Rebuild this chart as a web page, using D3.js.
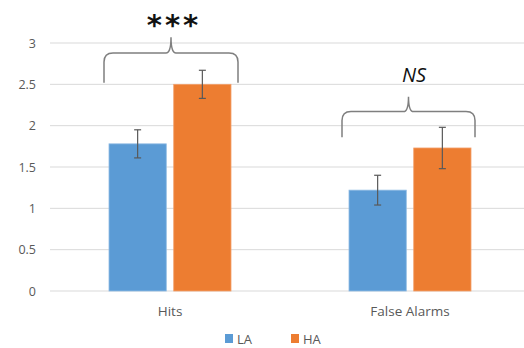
<!DOCTYPE html>
<html>
<head>
<meta charset="utf-8">
<script src="https://cdn.jsdelivr.net/npm/d3@7"></script>
<style>
  body { margin: 0; background: #fff; }
  text { font-family: "Open Sans", "DejaVu Sans", sans-serif; }
</style>
</head>
<body>
<script>
// chart data
var categories = ['Hits', 'False Alarms'];
var groups = ['LA', 'HA'];
var laValues = [1.78, 1.22];
var haValues = [2.50, 1.73];
var laErr = [0.17, 0.18];
var haErr = [0.17, 0.25];
var yTicks = [0, 0.5, 1, 1.5, 2, 2.5, 3];
var sigLabels = ['***', 'NS'];

var colors = { LA: '#5B9BD5', HA: '#ED7D31' };

var svg = d3.select('body').append('svg').attr('width', 524).attr('height', 348);

var x = d3.scaleBand().domain(categories).range([50, 530]);
var xInner = d3.scaleBand().domain(groups).range([0, 122]).paddingInner(0.115);
var y = d3.scaleLinear().domain([0, 3]).range([291, 43]);

// gridlines
svg.append('g').selectAll('line').data(yTicks).enter().append('line')
  .attr('x1', 50).attr('x2', 524)
  .attr('y1', function(d) { return y(d); })
  .attr('y2', function(d) { return y(d); })
  .attr('stroke', '#d9d9d9').attr('stroke-width', 1);

// y axis labels
var yAxis = d3.axisLeft(y).tickValues(yTicks).tickSize(0).tickPadding(0)
  .tickFormat(function(d) { return d; });
var ya = svg.append('g').attr('transform', 'translate(36,0)').call(yAxis);
ya.select('.domain').remove();
ya.selectAll('text').attr('fill', '#595959').style('font-size', '12.5px')
  .style('font-family', '"Open Sans", "DejaVu Sans", sans-serif');

// x axis labels
var xAxis = d3.axisBottom(x).tickSize(0).tickPadding(0);
var xa = svg.append('g').attr('transform', 'translate(0,306)').call(xAxis);
xa.select('.domain').remove();
xa.selectAll('text').attr('fill', '#595959').style('font-size', '13.5px')
  .style('font-family', '"Open Sans", "DejaVu Sans", sans-serif');

var rows = [];
categories.forEach(function(c, i) {
  rows.push({ cat: c, g: 'LA', v: laValues[i], e: laErr[i] });
  rows.push({ cat: c, g: 'HA', v: haValues[i], e: haErr[i] });
});

function barX(d) {
  return x(d.cat) + x.bandwidth() / 2 - 61 + xInner(d.g);
}

svg.append('g').selectAll('rect').data(rows).enter().append('rect')
  .attr('x', barX)
  .attr('y', function(d) { return y(d.v); })
  .attr('width', xInner.bandwidth())
  .attr('height', function(d) { return y(0) - y(d.v); })
  .attr('fill', function(d) { return colors[d.g]; })
  .attr('stroke', function(d) { return d.g == 'LA' ? '#8fbbe4' : '#f2a06c'; })
  .attr('stroke-width', 0.8);

// error bars
var eb = svg.append('g').attr('stroke', '#595959').attr('stroke-width', 1.2);
rows.forEach(function(d) {
  var cx = barX(d) + xInner.bandwidth() / 2;
  eb.append('line').attr('x1', cx).attr('x2', cx)
    .attr('y1', y(d.v + d.e)).attr('y2', y(d.v - d.e));
  eb.append('line').attr('x1', cx - 3.5).attr('x2', cx + 3.5)
    .attr('y1', y(d.v + d.e)).attr('y2', y(d.v + d.e));
  eb.append('line').attr('x1', cx - 3.5).attr('x2', cx + 3.5)
    .attr('y1', y(d.v - d.e)).attr('y2', y(d.v - d.e));
});

// braces above each group
function bracePath(x0, x1, yb, yh, yp) {
  var m = (x0 + x1) / 2, r = 9;
  return 'M' + x0 + ',' + yb +
    ' L' + x0 + ',' + (yh + r) +
    ' Q' + x0 + ',' + yh + ' ' + (x0 + r) + ',' + yh +
    ' L' + (m - 5) + ',' + yh +
    ' Q' + m + ',' + yh + ' ' + m + ',' + yp +
    ' Q' + m + ',' + yh + ' ' + (m + 5) + ',' + yh +
    ' L' + (x1 - r) + ',' + yh +
    ' Q' + x1 + ',' + yh + ' ' + x1 + ',' + (yh + r) +
    ' L' + x1 + ',' + yb;
}

var braces = [
  { x0: 104, x1: 238, yb: y(2.52), yh: y(2.88), yp: y(3.07) },
  { x0: 342, x1: 475, yb: y(1.86), yh: y(2.17), yp: y(2.35) }
];
svg.append('g').selectAll('path').data(braces).enter().append('path')
  .attr('d', function(d) { return bracePath(d.x0, d.x1, d.yb, d.yh, d.yp); })
  .attr('fill', 'none').attr('stroke', '#7f7f7f').attr('stroke-width', 1.5);

svg.append('text').attr('x', 174).attr('y', 35).attr('text-anchor', 'middle')
  .style('font-size', '29px').style('font-weight', 'bold').style('letter-spacing', '3px')
  .style('font-family', '"DejaVu Sans", sans-serif')
  .attr('fill', '#111').text(sigLabels[0]);

svg.append('text').attr('x', 414).attr('y', 82).attr('text-anchor', 'middle')
  .style('font-size', '20px').style('font-style', 'italic')
  .attr('fill', '#111').text(sigLabels[1]);

// legend
var leg = svg.append('g');
var legPos = [{ g: 'LA', x: 225 }, { g: 'HA', x: 291 }];
legPos.forEach(function(p) {
  leg.append('rect').attr('x', p.x).attr('y', 334).attr('width', 8).attr('height', 9)
    .attr('fill', colors[p.g]);
  leg.append('text').attr('x', p.x + 12).attr('y', 344)
    .attr('fill', '#595959').style('font-size', '13px').text(p.g);
});
</script>
</body>
</html>
